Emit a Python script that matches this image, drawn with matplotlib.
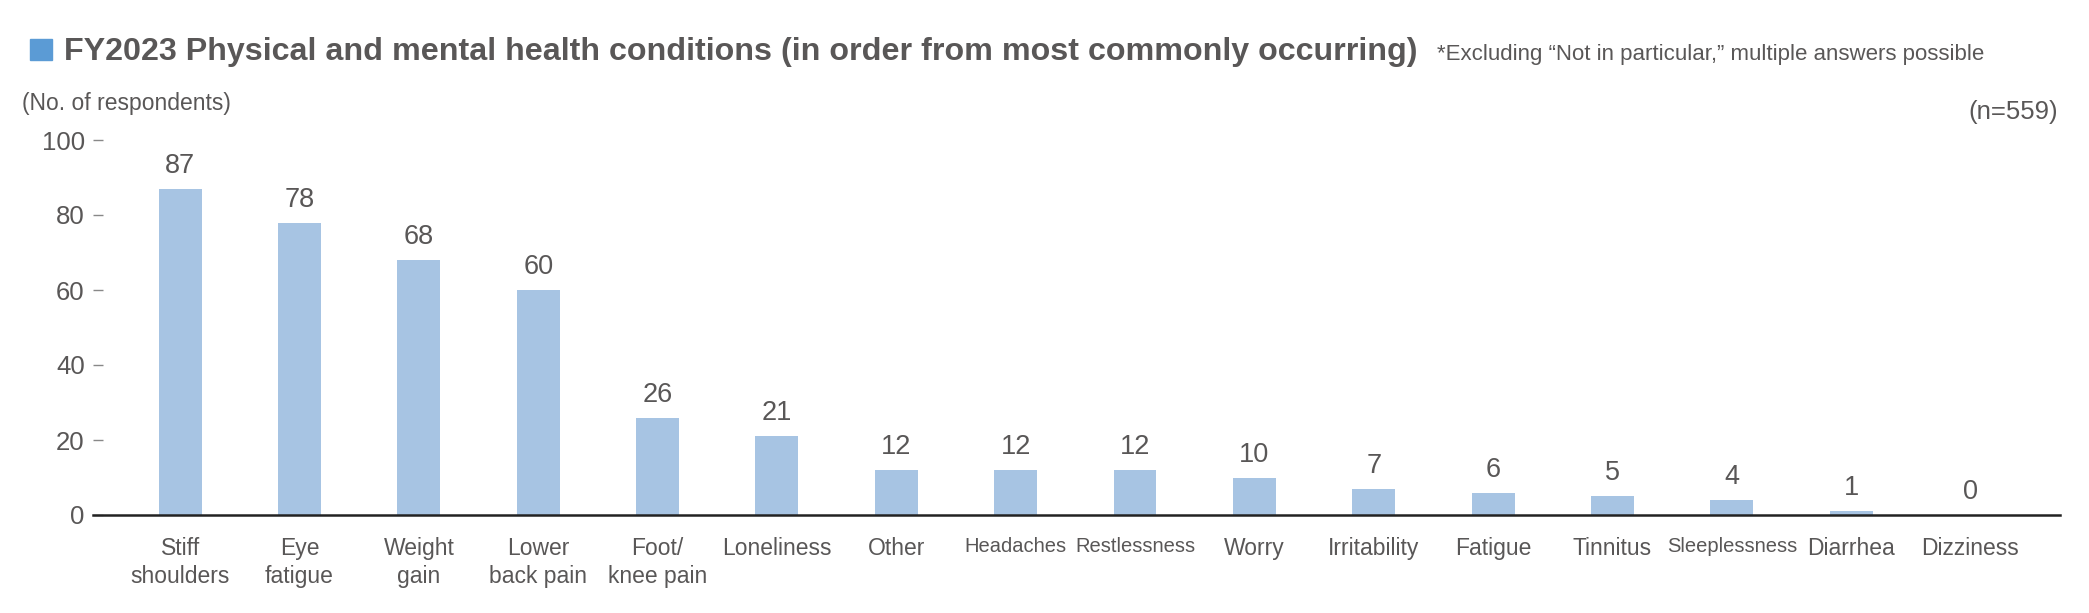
import matplotlib.pyplot as plt
from matplotlib.patches import Rectangle

categories = ["Stiff\nshoulders", "Eye\nfatigue", "Weight\ngain", "Lower\nback pain",
              "Foot/\nknee pain", "Loneliness", "Other", "Headaches", "Restlessness",
              "Worry", "Irritability", "Fatigue", "Tinnitus", "Sleeplessness",
              "Diarrhea", "Dizziness"]
counts = [87, 78, 68, 60, 26, 21, 12, 12, 12, 10, 7, 6, 5, 4, 1, 0]
yticks = [0, 20, 40, 60, 80, 100]

plt.rcParams['font.family'] = ['Liberation Sans', 'DejaVu Sans']
gray = "#595757"
bar_color = "#a7c4e3"

W, H = 2089, 613
fig = plt.figure(figsize=(W / 100, H / 100), dpi=100)
ax = fig.add_axes([93 / W, 1 - 515 / H, (2060 - 93) / W, (515 - 140) / H])

x = list(range(len(categories)))
bars = ax.bar(x, counts, width=0.36, color=bar_color, zorder=2)

for xi, v in zip(x, counts):
    ax.annotate(str(v), (xi, v), xytext=(0, 11.5), textcoords="offset points",
                ha="center", va="baseline", fontsize=19.5, color=gray)

ax.set_xlim(-0.73, 15.75)
ax.set_ylim(0, 100)
ax.set_yticks(yticks)
ax.set_xticks(x)
ax.set_xticklabels(categories, fontsize=16.5, color=gray, linespacing=1.25)
# a few long labels are squeezed in the original
for lbl in ax.get_xticklabels():
    if lbl.get_text() in ("Headaches", "Restlessness", "Sleeplessness"):
        lbl.set_fontsize(14.5)

ax.tick_params(axis="x", length=0, pad=16)
ax.tick_params(axis="y", direction="in", length=7, width=1, color="#888888",
               labelsize=18.5, labelcolor=gray, pad=6)

for s in ["top", "right", "left"]:
    ax.spines[s].set_visible(False)
ax.spines["bottom"].set_color("#222222")
ax.spines["bottom"].set_linewidth(1.8)
ax.spines["bottom"].set_zorder(3)

# header texts
fig.patches.append(Rectangle((30 / W, 1 - 60 / H), 22 / W, 21 / H,
                             transform=fig.transFigure, color="#5b9bd5"))
fig.text(64 / W, 1 - 60 / H,
         "FY2023 Physical and mental health conditions (in order from most commonly occurring)",
         fontsize=23.2, fontweight="bold", color=gray, va="baseline", ha="left")
fig.text(1437 / W, 1 - 60 / H,
         "*Excluding \u201cNot in particular,\u201d multiple answers possible",
         fontsize=16, color=gray, va="baseline", ha="left")
fig.text(22 / W, 1 - 110 / H, "(No. of respondents)", fontsize=16.5, color=gray,
         va="baseline", ha="left")
fig.text(2058 / W, 1 - 119 / H, "(n=559)", fontsize=18.5, color=gray,
         va="baseline", ha="right")

fig.savefig("out.png", dpi=100)
